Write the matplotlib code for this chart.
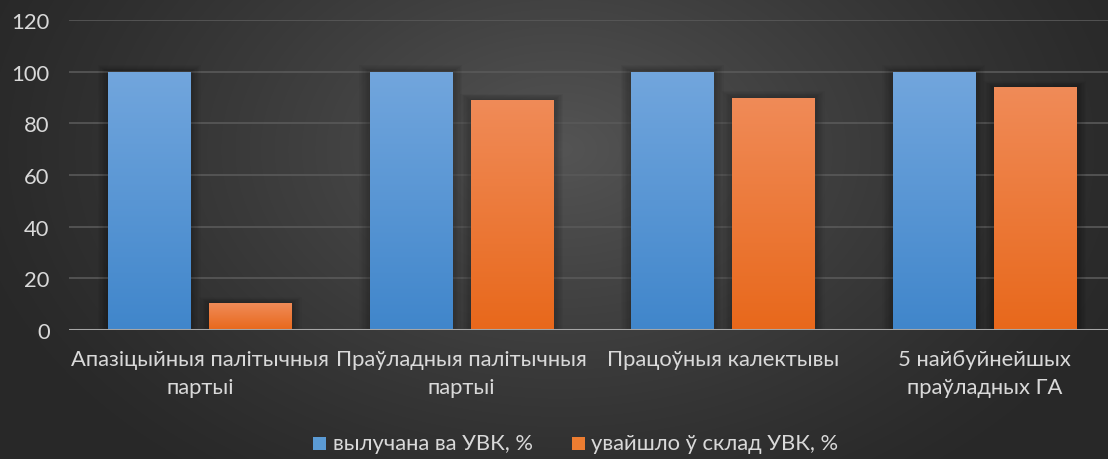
import numpy as np
import matplotlib.pyplot as plt
from matplotlib.colors import LinearSegmentedColormap
from matplotlib.patches import Rectangle

categories = ['Апазіцыйныя палітычныя\nпартыі', 'Праўладныя палітычныя\nпартыі',
              'Працоўныя калектывы', '5 найбуйнейшых\nпраўладных ГА']
elected = [100, 100, 100, 100]
entered = [10.4, 89, 90, 94]
series_names = ['вылучана ва УВК, %', 'увайшло ў склад УВК, %']
yticks = [0, 20, 40, 60, 80, 100, 120]

plt.rcParams['font.family'] = ['Lato', 'DejaVu Sans']
text_col = '#d9d9d9'
fs = 15.8

fig = plt.figure(figsize=(11.08, 4.6), dpi=100)

# radial dark background
bg = fig.add_axes([0, 0, 1, 1])
yy, xx = np.mgrid[0:460, 0:1108]
r = np.sqrt(((xx - 560) / 620.0) ** 2 + ((yy - 150) / 420.0) ** 2)
shade = np.clip(1 - r, 0, 1) ** 1.2
bgcmap = LinearSegmentedColormap.from_list('bg', ['#282828', '#545454'])
bg.imshow(shade, cmap=bgcmap, aspect='auto', extent=[0, 1, 0, 1], vmin=0, vmax=1)
bg.axis('off')

# axes: left 69px, right ~1115px, bottom y=331 px, top y=21 px
ax = fig.add_axes([69 / 1108, (460 - 331) / 460, (1115 - 69) / 1108, 310 / 460])
ax.patch.set_alpha(0)

for y in yticks[1:]:
    ax.axhline(y, color='#595959', lw=1.2, zorder=0)

x = np.arange(len(categories))
w = 0.314
off = 0.193

blue_cmap = LinearSegmentedColormap.from_list('b', ['#4086cb', '#72a6dd'])
orange_cmap = LinearSegmentedColormap.from_list('o', ['#e8681b', '#f08b58'])
grad = np.linspace(0, 1, 256).reshape(-1, 1)


def gradient_bars(xs, vals, cmap):
    bars = ax.bar(xs, vals, width=w, color='none', zorder=3)
    for b in bars:
        x0, y0 = b.get_x(), b.get_y()
        bw, bh = b.get_width(), b.get_height()
        # soft shadow
        for k in np.linspace(0.004, 0.04, 8):
            ax.add_patch(Rectangle((x0 - k, y0), bw + 2 * k, bh + k * 60,
                                   color='black', alpha=0.03, lw=0, zorder=2))
        im = ax.imshow(grad[::-1], cmap=cmap, aspect='auto',
                       extent=[x0, x0 + bw, y0, y0 + bh], origin='upper',
                       vmin=0, vmax=1, zorder=3)
        im.set_clip_path(b)
    return bars


gradient_bars(x - off, elected, blue_cmap)
gradient_bars(x + off, entered, orange_cmap)
ax.set_xlim(-0.5, 3.5)
ax.set_ylim(0, 120)

ax.axhline(0, color='#a6a6a6', lw=2.2, zorder=4)

for s in ax.spines.values():
    s.set_visible(False)
ax.set_yticks(yticks)
ax.set_yticklabels([str(v) for v in yticks], fontsize=fs, color=text_col)
ax.tick_params(axis='y', length=0, pad=14)
ax.set_xticks([])

for xi, lab in zip(x, categories):
    ax.text(xi, -7.5, lab, ha='center', va='top', fontsize=fs, color=text_col,
            linespacing=1.45)

# legend
leg_y = (460 - 444) / 460
fig.patches.append(Rectangle((313 / 1108, (460 - 451) / 460), 13 / 1108, 13 / 460,
                             transform=fig.transFigure, color='#5b9bd5', lw=0))
fig.text(333 / 1108, leg_y, series_names[0], fontsize=fs, color=text_col, va='center')
fig.patches.append(Rectangle((572 / 1108, (460 - 451) / 460), 13 / 1108, 13 / 460,
                             transform=fig.transFigure, color='#ed7d31', lw=0))
fig.text(591 / 1108, leg_y, series_names[1], fontsize=fs, color=text_col, va='center')

fig.savefig('out.png', dpi=100)
